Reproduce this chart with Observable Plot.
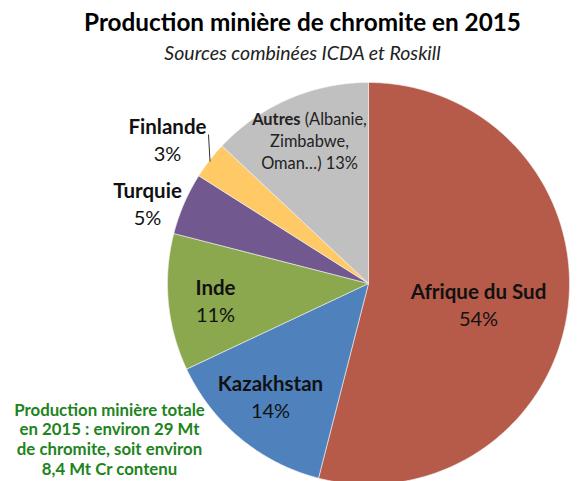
<!DOCTYPE html>
<html>
<head>
<meta charset="utf-8">
<script src="https://cdn.jsdelivr.net/npm/d3@7"></script>
<script src="https://cdn.jsdelivr.net/npm/@observablehq/plot@0.6"></script>
<style>
  html, body { margin: 0; padding: 0; background: #fff; }
  #chart { width: 577px; height: 481px; }
</style>
</head>
<body>
<div id="chart"></div>
<script>
// ---- data ----
const countries = ["Afrique du Sud", "Kazakhstan", "Inde", "Turquie", "Finlande", "Autres"];
const shares = [54, 14, 11, 5, 3, 13];
const colors = ["#b65a4a", "#4f81bd", "#8ca84f", "#71588f", "#ffc966", "#c0c0c0"];
const title = "Production minière de chromite en 2015";
const subtitle = "Sources combinées ICDA et Roskill";
const note = ["Production minière totale", "en 2015 : environ 29 Mt", "de chromite, soit environ", "8,4 Mt Cr contenu"];

// ---- layout (pixels) ----
const W = 577, H = 481, CX = 368, CY = 283, R = 201;
const font = "Lato, 'Noto Sans', sans-serif";

// pie geometry from data
const pie = d3.pie().sort(null).value(d => d.value)
  (countries.map((name, i) => ({name, value: shares[i], color: colors[i]})));
const polyPts = [];
for (const a of pie) {
  const n = Math.max(4, Math.ceil((a.endAngle - a.startAngle) / 0.01));
  polyPts.push({name: a.data.name, color: a.data.color, x: 0, y: 0});
  for (let k = 0; k <= n; k++) {
    const t = a.startAngle + (a.endAngle - a.startAngle) * k / n;
    polyPts.push({name: a.data.name, color: a.data.color, x: Math.sin(t), y: Math.cos(t)});
  }
  polyPts.push({name: a.data.name, color: a.data.color, x: 0, y: 0});
}

// helpers to express pixel layout in unit (radius) coordinates
const ux = px => (px - CX) / R;
const uy = py => (CY - py) / R;

// label positions (pixel layout)
const labels = [
  {name: "Afrique du Sud", px: 478, py: 292, pct: 0},
  {name: "Kazakhstan", px: 270, py: 384, pct: 1},
  {name: "Inde", px: 215, py: 288, pct: 2},
  {name: "Turquie", px: 147, py: 191, pct: 3},
  {name: "Finlande", px: 167, py: 127, pct: 4}
];
const nameLabels = labels.map(l => ({text: l.name, x: ux(l.px), y: uy(l.py)}));
const pctLabels = labels.map(l => ({text: shares[l.pct] + "%", x: ux(l.px), y: uy(l.py + 27)}));
const noteRows = note.map((t, i) => ({t, x: ux(109), y: uy(410 + i * 19.6)}));

const chart = Plot.plot({
  width: W, height: H,
  margin: 0,
  x: {domain: [ux(0), ux(W)], range: [0, W], axis: null},
  y: {domain: [uy(H), uy(0)], range: [H, 0], axis: null},
  style: {fontFamily: font, background: "white"},
  marks: [
    Plot.line(polyPts, {x: "x", y: "y", z: "name", fill: "color", stroke: "#f4f4f4", strokeWidth: 0.6, curve: "linear"}),
    // Finlande leader line
    Plot.link([{x1: ux(208), y1: uy(134), x2: ux(209.5), y2: uy(161)}], {x1: "x1", y1: "y1", x2: "x2", y2: "y2", stroke: "#333", strokeWidth: 1}),
    Plot.text(nameLabels, {x: "x", y: "y", text: "text", fontSize: 20.5, fontWeight: "bold", fill: "#111"}),
    Plot.text(pctLabels, {x: "x", y: "y", text: "text", fontSize: 20, fill: "#111"}),
    // Autres label
    Plot.text([{x: ux(309), y: uy(119)}], {x: "x", y: "y", text: () => "Autres (Albanie,", fontSize: 16.4, fill: "#222",
      render(index, scales, values, dims, context, next) {
        const g = next(index, scales, values, dims, context);
        const t = g.querySelector("text");
        t.textContent = "";
        const b = document.createElementNS("http://www.w3.org/2000/svg", "tspan");
        b.setAttribute("font-weight", "bold"); b.textContent = "Autres";
        t.appendChild(b);
        t.appendChild(document.createTextNode(" (Albanie,"));
        return g;
      }}),
    Plot.text([{x: ux(309), y: uy(141), t: "Zimbabwe,"}, {x: ux(309), y: uy(163), t: "Oman…) " + shares[5] + "%"}],
      {x: "x", y: "y", text: "t", fontSize: 16.4, fill: "#222"}),
    // title & subtitle
    Plot.text([{x: ux(302), y: uy(23), t: title}], {x: "x", y: "y", text: "t", fontSize: 24.3, fontWeight: "bold", fill: "#000"}),
    Plot.text([{x: ux(302), y: uy(53), t: subtitle}], {x: "x", y: "y", text: "t", fontSize: 19.5, fontStyle: "italic", fill: "#222"}),
    // note
    Plot.text(noteRows, {x: "x", y: "y", text: "t", fontSize: 16.8, fontWeight: "bold", fill: "#21831c"})
  ]
});
document.getElementById("chart").appendChild(chart);
</script>
</body>
</html>
